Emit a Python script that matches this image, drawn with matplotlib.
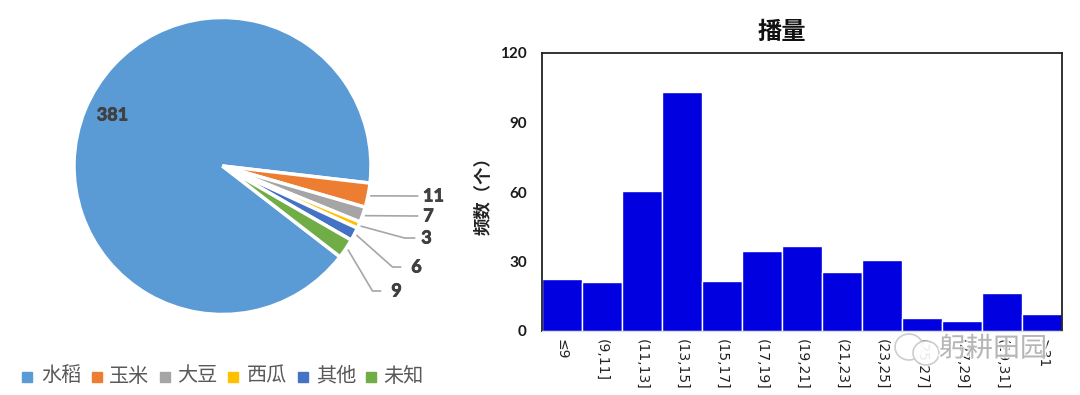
import numpy as np
import matplotlib
matplotlib.use("Agg")
import matplotlib.pyplot as plt
import matplotlib.patheffects as pe
from matplotlib.patches import Ellipse, Rectangle

plt.rcParams['font.family'] = ['Noto Sans CJK SC', 'DejaVu Sans']

W, H = 1080, 395

# pie data
crops = ['水稻', '玉米', '大豆', '西瓜', '其他', '未知']
crop_counts = [381, 11, 7, 3, 6, 9]
crop_colors = ['#5B9BD5', '#ED7D31', '#A5A5A5', '#FFC000', '#4472C4', '#70AD47']

# histogram data
bins = ['≤9', '(9,11]', '(11,13]', '(13,15]', '(15,17]', '(17,19]', '(19,21]',
        '(21,23]', '(23,25]', '(25,27]', '(27,29]', '(29,31]', '>31']
freq = [22.5, 21, 60.5, 103, 21.5, 34.5, 36.5, 25.5, 30.5, 5.5, 4.5, 16.5, 7.5]
y_ticks = [0, 30, 60, 90, 120]

NUM_FONT = ['Lato', 'Noto Sans CJK SC']


def px_axes(fig, x0, y0, x1, y1):
    # pixel box, y measured from the top
    return fig.add_axes([x0 / W, 1 - y1 / H, (x1 - x0) / W, (y1 - y0) / H])


fig = plt.figure(figsize=(W / 100, H / 100), dpi=100)

# ---- pie ----
cx, cy, r = 222.5, 166, 148.5
span = 1.6
ax1 = px_axes(fig, cx - r * span, cy - r * span, cx + r * span, cy + r * span)
wedges, _ = ax1.pie(crop_counts, colors=crop_colors, startangle=-37.7,
                    counterclock=False, radius=1,
                    wedgeprops=dict(edgecolor='white', linewidth=2.5))
ax1.set_xlim(-span, span)
ax1.set_ylim(-span, span)
ax1.axis('off')

thick = [pe.withStroke(linewidth=0.6, foreground='#404040')]
ax1.text(-110 / r, 51 / r, str(crop_counts[0]), fontsize=13, fontweight='bold',
         family=NUM_FONT, color='#404040', ha='center', va='center', path_effects=thick)

# leader lines of the small slices, px offsets from the pie centre
elbow_x = [195, 195, 182, 170, 150]
end_x = [195, 195, 192, 178, 158]
line_y = [30, 50, 72, 101, 125]
label_x = [211, 206, 204, 194, 174]

for w, n, ex, tx, ly, lx in zip(wedges[1:], crop_counts[1:], elbow_x, end_x, line_y, label_x):
    a = np.deg2rad((w.theta1 + w.theta2) / 2)
    xs = [np.cos(a) * 1.02, ex / r, tx / r]
    ys = [np.sin(a) * 1.02, -ly / r, -ly / r]
    ax1.plot(xs, ys, color='#A6A6A6', lw=1.2, clip_on=False)
    ax1.text(lx / r, -ly / r, str(n), fontsize=13, fontweight='bold',
             family=NUM_FONT, color='#404040', ha='center', va='center', path_effects=thick)

# legend
box_x = [22, 92, 160, 228, 298, 366]
name_x = [41, 109, 177, 247, 316, 383]
for name, col, bx, nx in zip(crops, crop_colors, box_x, name_x):
    fig.add_artist(Rectangle((bx / W, 1 - 382 / H), 10 / W, 10 / H, color=col,
                             transform=fig.transFigure))
    fig.text(nx / W, 1 - 376 / H, name, fontsize=14.5, color='#595959',
             ha='left', va='center')

# ---- histogram ----
ax2 = px_axes(fig, 542, 53, 1062, 331)
x = np.arange(len(bins))
ax2.bar(x, freq, width=1.0, color='#0000E0', edgecolor='white', linewidth=1.0)
ax2.set_xlim(-0.5, len(bins) - 0.5)
ax2.set_ylim(0, 120)
ax2.set_yticks(y_ticks)
ax2.set_yticklabels(y_ticks, fontsize=11, fontweight='bold', family=NUM_FONT,
                    color='#1a1a1a')
ax2.set_xticks(x)
ax2.set_xticklabels(bins, rotation=270, fontsize=10, family=['DejaVu Sans'],
                    color='#222222')
ax2.tick_params(axis='x', length=0, pad=6)
ax2.tick_params(axis='y', length=0, pad=11)
for side in ['top', 'left', 'right']:
    ax2.spines[side].set_linewidth(1.3)
    ax2.spines[side].set_color('#222222')
ax2.spines['bottom'].set_color('#D9D9D9')
ax2.set_ylabel('频数（个）', fontsize=12.5, fontweight='bold', color='#222222')
ax2.yaxis.set_label_coords(-0.094, 0.5)
fig.text(782 / W, 1 - 32 / H, '播量', fontsize=17.5, fontweight='bold',
         ha='center', va='center', color='#111111')

# watermark over the lower right
ax3 = fig.add_axes([0, 0, 1, 1])
ax3.set_xlim(0, W)
ax3.set_ylim(H, 0)
ax3.axis('off')
ax3.patch.set_alpha(0)
ax3.add_patch(Ellipse((909, 347), 28, 26, fc='white', ec='#C8C8C8', lw=1.2, alpha=0.9))
ax3.add_patch(Ellipse((926, 353), 26, 24, fc='white', ec='#C8C8C8', lw=1.2, alpha=0.9))
ax3.text(993, 349, '躬耕田园', fontsize=19.5, color='#B0B0B0', alpha=0.9,
         ha='center', va='center',
         path_effects=[pe.withStroke(linewidth=2.5, foreground='white', alpha=0.8)])

fig.savefig('out.png', dpi=100)
